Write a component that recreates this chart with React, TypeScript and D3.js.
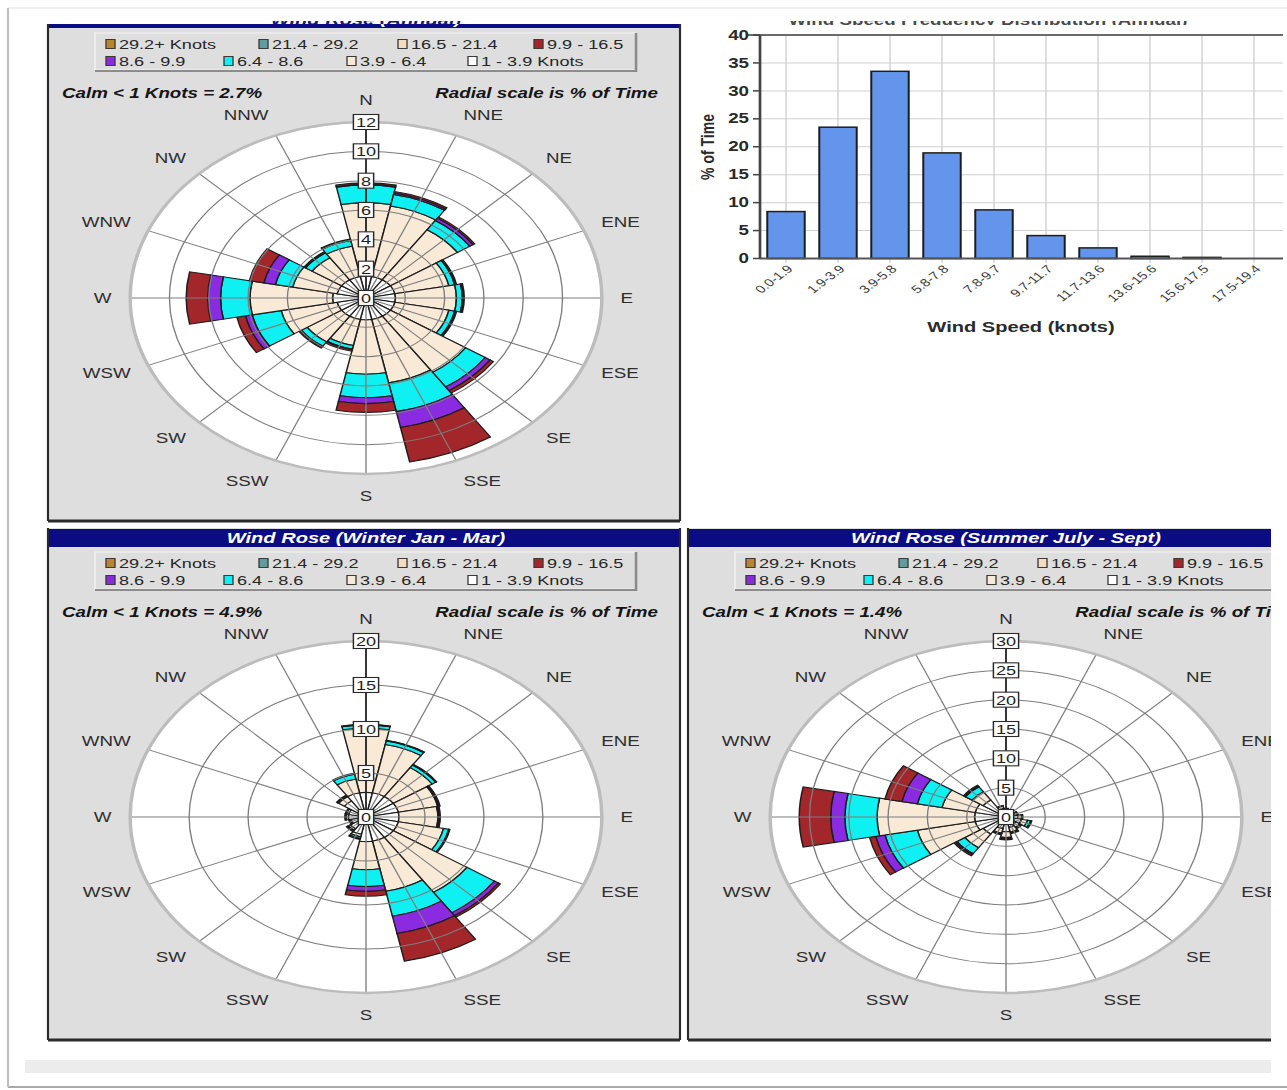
import React from 'react';
import * as d3 from 'd3';

// The whole sheet is drawn in an unstretched frame and widened by K on screen.
const K = 1.34;
const W = 1287;
const H = 1090;
const VW = W / K;
const sx = (px: number) => px / K;

const directions = ['N', 'NNE', 'NE', 'ENE', 'E', 'ESE', 'SE', 'SSE', 'S', 'SSW', 'SW', 'WSW', 'W', 'WNW', 'NW', 'NNW'];

// speed classes from the centre outwards
const speedLabels = ['1 - 3.9 Knots', '3.9 - 6.4', '6.4 - 8.6', '8.6 - 9.9', '9.9 - 16.5', '16.5 - 21.4', '21.4 - 29.2', '29.2+ Knots'];
const speedColors = ['#ffffff', '#f9ead8', '#0ef0f2', '#8a2be2', '#a3262a', '#f3dcc0', '#5f9ea0', '#b8862e'];

// legend layout: two rows, highest class first
const legendRow1 = [7, 6, 5, 4];
const legendRow2 = [3, 2, 1, 0];

// % of time per direction, per speed class (1-3.9, 3.9-6.4, 6.4-8.6, 8.6-9.9, 9.9-16.5)
const annualRows = [
  [1.5, 5.0, 1.2, 0.05, 0.1],
  [1.5, 4.9, 0.8, 0.1, 0.1],
  [1.5, 4.1, 0.75, 0.2, 0.1],
  [1.5, 2.8, 0.3, 0.05, 0.05],
  [1.5, 3.1, 0.3, 0.05, 0.05],
  [1.5, 2.8, 0.3, 0.05, 0.05],
  [1.5, 4.6, 1.2, 0.3, 0.2],
  [1.5, 4.4, 2.0, 1.1, 2.4],
  [1.5, 3.7, 1.6, 0.4, 0.6],
  [1.5, 1.8, 0.25, 0.05, 0.1],
  [1.5, 2.1, 0.35, 0.05, 0.1],
  [1.5, 2.9, 1.5, 0.35, 0.45],
  [1.7, 4.2, 1.5, 0.65, 1.1],
  [1.5, 2.3, 0.9, 0.6, 0.75],
  [1.5, 1.8, 0.4, 0.05, 0.05],
  [1.5, 2.1, 0.4, 0.05, 0.05],
];

const winterRows = [
  [2.8, 7.3, 0.35, 0.05, 0.05],
  [2.8, 5.6, 0.4, 0.05, 0.05],
  [2.8, 3.95, 0.35, 0.05, 0.05],
  [2.8, 3.4, 0.1, 0.05, 0.05],
  [2.8, 3.3, 0.1, 0.05, 0.05],
  [2.8, 3.9, 0.45, 0.05, 0.05],
  [2.8, 7.5, 2.8, 0.4, 0.2],
  [2.8, 5.8, 2.9, 2.0, 3.2],
  [2.8, 3.2, 1.9, 0.55, 0.55],
  [2.0, 0.3, 0.2, 0.05, 0.05],
  [1.6, 0.2, 0.1, 0.05, 0.05],
  [1.3, 0.1, 0.05, 0, 0.05],
  [1.5, 0.2, 0.05, 0, 0.05],
  [1.5, 0.2, 0.05, 0, 0.05],
  [2.2, 0.6, 0.1, 0.05, 0.05],
  [2.8, 1.6, 0.55, 0.05, 0.05],
];

const summerRows = [
  [1.2, 0.2, 0.05, 0, 0.05],
  [1.0, 0.2, 0, 0, 0.05],
  [1.0, 0.1, 0, 0, 0.05],
  [1.2, 0.3, 0.05, 0, 0.05],
  [1.5, 0.5, 0.05, 0, 0.1],
  [2.0, 0.8, 0.4, 0.05, 0.1],
  [1.5, 0.6, 0.2, 0, 0.1],
  [1.8, 0.8, 0.2, 0, 0.1],
  [2.5, 1.0, 0.2, 0.05, 0.15],
  [2.0, 0.8, 0.2, 0, 0.1],
  [3.5, 2.8, 1.2, 0.2, 0.25],
  [4.0, 7.5, 4.2, 1.2, 0.8],
  [4.0, 12.4, 4.1, 1.8, 4.0],
  [4.0, 4.3, 3.2, 2.0, 2.2],
  [3.5, 1.7, 1.0, 0.15, 0.15],
  [1.5, 0.4, 0.05, 0, 0.05],
];

// speed distribution histogram
const binLabels = ['0.0-1.9', '1.9-3.9', '3.9-5.8', '5.8-7.8', '7.8-9.7', '9.7-11.7', '11.7-13.6', '13.6-15.6', '15.6-17.5', '17.5-19.4'];
const binValues = [8.4, 23.5, 33.5, 18.9, 8.7, 4.1, 1.9, 0.4, 0.2, 0];
const freqTicks = [0, 5, 10, 15, 20, 25, 30, 35, 40];

const PANEL_BG = '#dedede';
const TITLE_BG = '#0b0b82';
const FONT = 'Arial, "Liberation Sans", Helvetica, sans-serif';

type RoseProps = {
  id: string;
  x0: number; // panel left, screen px
  y0: number; // panel top, screen px
  width: number;
  title: string;
  calm: string;
  rows: number[][];
  max: number;
  step: number;
  clipTop?: number;
  clipRight?: number;
};

function Rose({ id, x0, y0, width, title, calm, rows, max, step, clipTop, clipRight }: RoseProps) {
  const left = sx(x0);
  const right = sx(x0 + width);
  const bottom = y0 + 512;
  const cx = sx(x0 + 318);
  const cy = y0 + 289;
  const R = 176;
  const r = d3.scaleLinear().domain([0, max]).range([0, R]);
  const ticks = d3.range(0, max + step / 2, step);
  const half = Math.PI / 16;
  const arc = d3.arc<any>();

  const segments: { d: string; fill: string }[] = [];
  rows.forEach((row, i) => {
    const a = (i * Math.PI) / 8;
    let acc = 0;
    row.forEach((v, k) => {
      if (v <= 0) return;
      const d = arc({ innerRadius: r(acc), outerRadius: r(acc + v), startAngle: a - half, endAngle: a + half }) as string;
      segments.push({ d, fill: speedColors[k] });
      acc += v;
    });
  });

  const clipX1 = clipRight !== undefined ? sx(clipRight) : right + 5;
  const clipY0 = clipTop !== undefined ? clipTop : y0 - 5;

  const legendX1 = [58, 211, 350, 486];
  const legendX2 = [58, 176, 299, 420];

  return (
    <g>
      <defs>
        <clipPath id={`clip-${id}`}>
          <rect x={left - 5} y={clipY0} width={clipX1 - left + 5} height={bottom + 10 - clipY0} />
        </clipPath>
      </defs>
      <g clipPath={`url(#clip-${id})`}>
        {/* panel */}
        <rect x={left} y={y0} width={right - left} height={bottom - y0} fill={PANEL_BG} />
        <rect x={left} y={y0 + 1} width={right - left} height={18} fill={TITLE_BG} />
        <text x={sx(x0 + 318)} y={y0 + 15} textAnchor="middle" fill="#fff" fontFamily={FONT} fontSize={15}
          fontWeight="bold" fontStyle="italic">{title}</text>
        <line x1={left} x2={left} y1={y0} y2={bottom} stroke="#2a2a2a" strokeWidth={1.6} />
        <line x1={right} x2={right} y1={y0} y2={bottom} stroke="#2a2a2a" strokeWidth={1.6} />
        <line x1={left} x2={right} y1={bottom} y2={bottom} stroke="#2a2a2a" strokeWidth={3} />

        {/* legend */}
        <rect x={sx(x0 + 47)} y={y0 + 24} width={sx(540)} height={37} fill={PANEL_BG} stroke="#f4f4f4" strokeWidth={1} />
        <line x1={sx(x0 + 47)} x2={sx(x0 + 588)} y1={y0 + 62} y2={y0 + 62} stroke="#8c8c8c" strokeWidth={2} />
        <line x1={sx(x0 + 588)} x2={sx(x0 + 588)} y1={y0 + 24} y2={y0 + 63} stroke="#8c8c8c" strokeWidth={2} />
        {[legendRow1, legendRow2].map((row, ri) =>
          row.map((k, ci) => {
            const bx = sx(x0 + (ri === 0 ? legendX1[ci] : legendX2[ci]));
            const by = y0 + (ri === 0 ? 35 : 52);
            return (
              <g key={`${ri}-${ci}`}>
                <rect x={bx} y={by - 4.5} width={sx(9)} height={9} fill={speedColors[k]} stroke="#3a3a3a" strokeWidth={1} />
                <text x={bx + sx(13)} y={by} dominantBaseline="central" fontFamily={FONT} fontSize={13.5} fill="#262626">
                  {speedLabels[k]}
                </text>
              </g>
            );
          })
        )}

        <text x={sx(x0 + 14)} y={y0 + 84} dominantBaseline="central" fontFamily={FONT} fontSize={14} fontWeight="bold"
          fontStyle="italic" fill="#151515">{calm}</text>
        <text x={sx(x0 + 610)} y={y0 + 84} dominantBaseline="central" textAnchor="end" fontFamily={FONT} fontSize={14}
          fontWeight="bold" fontStyle="italic" fill="#151515">Radial scale is % of Time</text>

        {/* rose */}
        <g transform={`translate(${cx},${cy})`}>
          <circle r={R} fill="#ffffff" />
          {segments.map((s, i) => (
            <path key={i} d={s.d} fill={s.fill} stroke="#1c1c1c" strokeWidth={1.1} />
          ))}
          {ticks.filter((t) => t > 0 && t < max).map((t) => (
            <circle key={t} r={r(t)} fill="none" stroke="#7d7d7d" strokeWidth={1} />
          ))}
          {directions.map((_, i) => {
            const a = (i * Math.PI) / 8;
            return (
              <line key={i} x1={0} y1={0} x2={R * Math.sin(a)} y2={-R * Math.cos(a)} stroke="#7d7d7d" strokeWidth={1} />
            );
          })}
          <circle r={R} fill="none" stroke="#bcbcbc" strokeWidth={2.6} />
          <line x1={0} x2={0} y1={0} y2={-R} stroke="#1a1a1a" strokeWidth={1.2} />
          {ticks.map((t) => {
            const label = String(t);
            const bw = label.length * 7.4 + 4;
            return (
              <g key={t} transform={`translate(0,${-r(t)})`}>
                <rect x={-bw / 2} y={-7.5} width={bw} height={15} fill="#ffffff" stroke="#2a2a2a" strokeWidth={1.1} />
                <text y={0.5} textAnchor="middle" dominantBaseline="central" fontFamily={FONT} fontSize={13.5} fill="#1e1e1e">
                  {label}
                </text>
              </g>
            );
          })}
          {directions.map((d, i) => {
            const a = (i * Math.PI) / 8;
            const s = Math.sin(a);
            const anchor = s > 0.01 ? 'start' : s < -0.01 ? 'end' : 'middle';
            return (
              <text key={d} x={190 * s} y={-198 * Math.cos(a)} textAnchor={anchor} dominantBaseline="central"
                fontFamily={FONT} fontSize={14} fill="#2e2e2e">{d}</text>
            );
          })}
        </g>
      </g>
    </g>
  );
}

function Histogram() {
  const x = d3.scaleBand<string>().domain(binLabels).range([sx(760), sx(1280)]).paddingInner(0.28).paddingOuter(0.14);
  const y = d3.scaleLinear().domain([0, 40]).range([258.5, 35]);
  const xl = sx(760);
  const xr = sx(1283);
  const bw = x.bandwidth();
  return (
    <g>
      <defs>
        <clipPath id="clip-hist-title">
          <rect x={sx(700)} y={21} width={sx(560)} height={4} />
        </clipPath>
      </defs>
      <text x={sx(988)} y={25} textAnchor="middle" fontFamily={FONT} fontSize={14} fontWeight="bold" fill="#4a4a4a"
        clipPath="url(#clip-hist-title)">Wind Speed Frequency Distribution (Annual)</text>
      {freqTicks.filter((t) => t > 0 && t < 40).map((t) => (
        <line key={t} x1={xl} x2={xr} y1={y(t)} y2={y(t)} stroke="#cfcfcf" strokeWidth={1} />
      ))}
      {binLabels.map((b) => (
        <line key={b} x1={(x(b) as number) + bw / 2} x2={(x(b) as number) + bw / 2} y1={35} y2={263} stroke="#cfcfcf" strokeWidth={1} />
      ))}
      {binLabels.map((b, i) => (
        <rect key={b} x={x(b) as number} y={y(binValues[i])} width={bw} height={y(0) - y(binValues[i])}
          fill="#6495ed" stroke="#1e1e1e" strokeWidth={1.5} />
      ))}
      <line x1={sx(748)} x2={xr} y1={y(40)} y2={y(40)} stroke="#6a6a6a" strokeWidth={2} />
      <line x1={xl} x2={xr} y1={y(0)} y2={y(0)} stroke="#555" strokeWidth={2} />
      <line x1={xl} x2={xl} y1={y(40)} y2={y(0)} stroke="#444" strokeWidth={2} />
      {freqTicks.map((t) => (
        <g key={t}>
          <line x1={sx(753)} x2={xl} y1={y(t)} y2={y(t)} stroke="#444" strokeWidth={1.5} />
          <text x={sx(749)} y={y(t)} textAnchor="end" dominantBaseline="central" fontFamily={FONT} fontSize={14}
            fontWeight="bold" fill="#2a2a2a">{t}</text>
        </g>
      ))}
      {binLabels.map((b) => {
        const cxp = (x(b) as number) + bw / 2;
        return (
          <text key={b} transform={`translate(${cxp + sx(4)},${267}) rotate(-45)`} textAnchor="end" dominantBaseline="central"
            fontFamily={FONT} fontSize={11} fill="#3a3a3a">{b}</text>
        );
      })}
      <text x={sx(1021)} y={327} textAnchor="middle" dominantBaseline="central" fontFamily={FONT} fontSize={15}
        fontWeight="bold" fill="#2a2a2a">Wind Speed (knots)</text>
      <text transform={`translate(${sx(708)},${147}) rotate(-90)`} textAnchor="middle" dominantBaseline="central"
        fontFamily={FONT} fontSize={14} fontWeight="bold" fill="#2a2a2a">% of Time</text>
    </g>
  );
}

export default function App() {
  return (
    <svg width={W} height={H} viewBox={`0 0 ${VW} ${H}`} preserveAspectRatio="none"
      style={{ position: 'absolute', left: 0, top: 0, display: 'block', background: '#fff' }}>
      <rect x={0} y={0} width={VW} height={H} fill="#ffffff" />
      {/* sheet frame */}
      <rect x={sx(8)} y={8} width={sx(1300)} height={1079} fill="none" stroke="#e2e2e2" strokeWidth={1} />
      <line x1={sx(8)} x2={sx(1290)} y1={1087} y2={1087} stroke="#a9a9a9" strokeWidth={2} />
      <line x1={sx(8)} x2={sx(8)} y1={8} y2={1087} stroke="#bdbdbd" strokeWidth={1.5} />
      <rect x={sx(25)} y={1060} width={sx(1246)} height={13} fill="#ececec" />

      {/* the annual rose's title bar is mostly cut off at the top of the sheet */}
      <defs>
        <clipPath id="clip-annual-title">
          <rect x={sx(48)} y={21} width={sx(632)} height={4} />
        </clipPath>
      </defs>
      <text x={sx(366)} y={25} textAnchor="middle" fontFamily={FONT} fontSize={15} fontWeight="bold" fontStyle="italic"
        fill="#1a1a6e" clipPath="url(#clip-annual-title)">Wind Rose (Annual)</text>

      <Rose id="annual" x0={48} y0={9} width={632} title="Wind Rose (Annual)" calm="Calm <  1 Knots = 2.7%"
        rows={annualRows} max={12} step={2} clipTop={24} />
      <Rose id="winter" x0={48} y0={528} width={632} title="Wind Rose (Winter Jan - Mar)" calm="Calm <  1 Knots = 4.9%"
        rows={winterRows} max={20} step={5} />
      <Rose id="summer" x0={688} y0={528} width={632} title="Wind Rose (Summer July - Sept)" calm="Calm <  1 Knots = 1.4%"
        rows={summerRows} max={30} step={5} clipRight={1271} />
      <Histogram />
    </svg>
  );
}
